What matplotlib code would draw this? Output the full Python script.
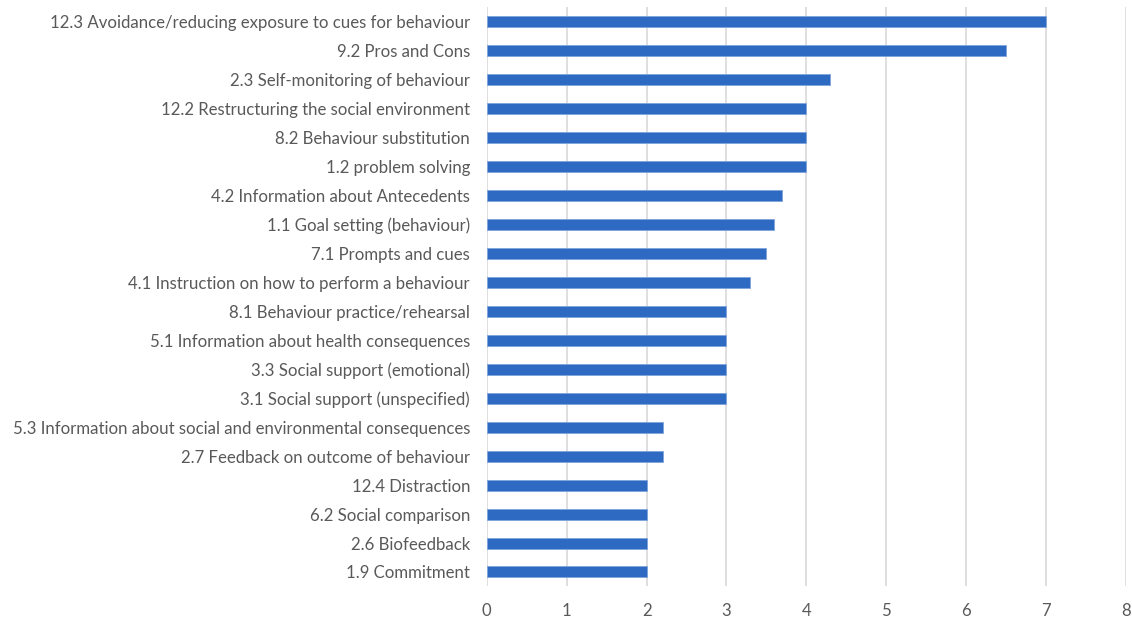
import matplotlib.pyplot as plt

labels = [
    "12.3 Avoidance/reducing exposure to cues for behaviour",
    "9.2 Pros and Cons",
    "2.3 Self-monitoring of behaviour",
    "12.2 Restructuring the social environment",
    "8.2 Behaviour substitution",
    "1.2 problem solving",
    "4.2 Information about Antecedents",
    "1.1 Goal setting (behaviour)",
    "7.1 Prompts and cues",
    "4.1 Instruction on how to perform a behaviour",
    "8.1 Behaviour practice/rehearsal",
    "5.1 Information about health consequences",
    "3.3 Social support (emotional)",
    "3.1 Social support (unspecified)",
    "5.3 Information about social and environmental consequences",
    "2.7 Feedback on outcome of behaviour",
    "12.4 Distraction",
    "6.2 Social comparison",
    "2.6 Biofeedback",
    "1.9 Commitment",
]
values = [7, 6.5, 4.3, 4, 4, 4, 3.7, 3.6, 3.5, 3.3, 3, 3, 3, 3, 2.2, 2.2, 2, 2, 2, 2]
xticks = [0, 1, 2, 3, 4, 5, 6, 7, 8]

plt.rcParams["font.family"] = ["Lato", "DejaVu Sans"]

fig = plt.figure(figsize=(11.32, 6.21), dpi=100)
ax = fig.add_axes([0.430, 0.0556, 0.5647, 0.9324])

pos = list(range(len(labels)))
ax.barh(pos, values, height=0.38, color="#2F6AC2", edgecolor="#7FA3DC",
        linewidth=0.6, zorder=3)

ax.set_ylim(len(labels) - 0.5, -0.5)
ax.set_xlim(0, 8)
ax.set_xticks(xticks)
ax.set_yticks(pos)
ax.set_yticklabels(labels)

ax.grid(axis="x", color="#dcdcdc", linewidth=1.3, zorder=0)
ax.set_axisbelow(True)
for s in ax.spines.values():
    s.set_visible(False)

ax.tick_params(axis="both", length=0, colors="#595959", labelsize=12.1)
ax.tick_params(axis="y", pad=12)
ax.tick_params(axis="x", pad=12)

fig.savefig("out.png", dpi=100)
